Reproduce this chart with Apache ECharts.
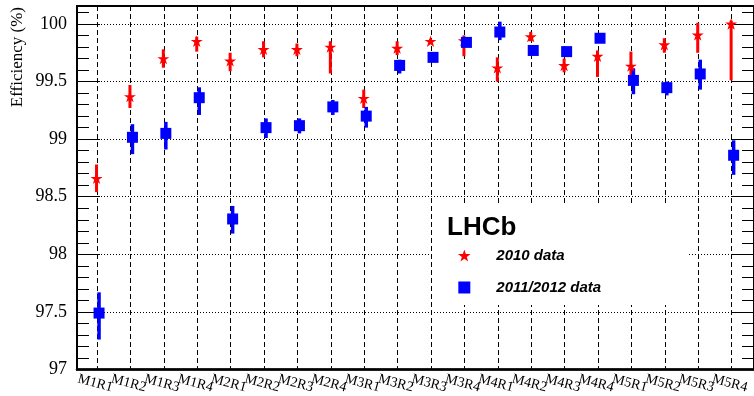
<!DOCTYPE html>
<html>
<head>
<meta charset="utf-8">
<script src="https://cdn.jsdelivr.net/npm/echarts@6/dist/echarts.min.js"></script>
<style>
  html, body { margin: 0; padding: 0; background: #fff; }
  #chart { width: 754px; height: 396px; }
</style>
</head>
<body>
<div id="chart"></div>
<script>
// Muon station regions (station M1..M5, region R1..R4)
const categories = ['M1R1','M1R2','M1R3','M1R4','M2R1','M2R2','M2R3','M2R4',
                    'M3R1','M3R2','M3R3','M3R4','M4R1','M4R2','M4R3','M4R4',
                    'M5R1','M5R2','M5R3','M5R4'];

// 2010 data: efficiency (%) with lower / upper error bounds
const eff2010 = [98.66, 99.37, 99.70, 99.85, 99.68, 99.78, 99.78, 99.80, 99.355, 99.79,
                 99.85, 99.855, 99.62, 99.89, 99.64, 99.72, 99.635, 99.82, 99.905, 100.0];
const low2010 = [98.54, 99.27, 99.62, 99.76, 99.59, 99.71, 99.72, 99.57, 99.27, 99.73,
                 99.83, 99.72, 99.50, 99.85, 99.58, 99.54, 99.557, 99.75, 99.75, 99.51];
const high2010 = [98.78, 99.47, 99.78, 99.89, 99.75, 99.85, 99.83, 99.85, 99.43, 99.85,
                  99.87, 99.90, 99.71, 99.93, 99.70, 99.77, 99.76, 99.876, 100.01, 100.03];

// 2011/2012 data: efficiency (%) with lower / upper error bounds
const eff2012 = [97.49, 99.016, 99.05, 99.36, 98.307, 99.10, 99.117, 99.28, 99.20, 99.64,
                 99.71, 99.84, 99.93, 99.77, 99.76, 99.876, 99.51, 99.447, 99.566, 98.86];
const low2012 = [97.26, 98.87, 98.91, 99.21, 98.18, 99.01, 99.05, 99.21, 99.10, 99.57,
                 99.68, 99.81, 99.86, 99.74, 99.72, 99.85, 99.39, 99.38, 99.43, 98.69];
const high2012 = [97.67, 99.13, 99.15, 99.45, 98.42, 99.18, 99.18, 99.34, 99.28, 99.69,
                  99.74, 99.87, 100.02, 99.80, 99.80, 99.90, 99.615, 99.50, 99.69, 98.99];

const yTicks = [97, 97.5, 98, 98.5, 99, 99.5, 100];

const X_MIN = -0.6, X_MAX = 19.67;
const Y_MIN = 97, Y_MAX = 100.156;
const OFF_2010 = -0.015, OFF_2012 = 0.06;   // small horizontal shift between the two sets

const STAR = 'path://M50,0L61.2,34.5L97.6,34.5L68.2,55.9L79.4,90.5L50,69.1L20.6,90.5L31.8,55.9L2.4,34.5L38.8,34.5Z';
const SQUARE = 'path://M0,0L10,0L10,10L0,10Z';
const RED = '#ff0000', BLUE = '#0000ff';

const catIdx = categories.map((_, i) => i);
// extent ends are padded in as blank labels so every region name stays visible
const labelValues = [X_MIN].concat(catIdx, [X_MAX]);

function yAxisDef(position, interval, tickLen, major) {
  return {
    type: 'value', position: position, min: Y_MIN, max: Y_MAX, interval: interval,
    axisLine: { show: major, onZero: false, lineStyle: { color: '#000', width: 2 } },
    axisTick: { show: true, inside: true, length: tickLen, lineStyle: { color: '#000', width: 1 } },
    axisLabel: {
      show: major && position === 'left', margin: 10,
      fontFamily: 'Liberation Serif', fontSize: 18, color: '#000',
      formatter: v => yTicks.some(t => Math.abs(t - v) < 1e-6) ? String(+v.toFixed(1)) : ''
    },
    splitLine: {
      show: major && position === 'left',
      lineStyle: { color: '#000', width: 1, type: [1, 2] }
    }
  };
}

function errorSeries(name, x, lo, hi, color, width) {
  return {
    type: 'custom', name: name, xAxisIndex: 0, yAxisIndex: 0,
    data: x.map((v, i) => [v, lo[i], hi[i]]),
    encode: { x: 0, y: [1, 2] },
    silent: true,
    renderItem: function (params, api) {
      const p1 = api.coord([api.value(0), api.value(1)]);
      const p2 = api.coord([api.value(0), api.value(2)]);
      return {
        type: 'line',
        shape: { x1: p1[0], y1: p1[1], x2: p2[0], y2: p2[1] },
        style: { stroke: color, lineWidth: width }
      };
    }
  };
}

const x2010 = catIdx.map(i => i + OFF_2010);
const x2012 = catIdx.map(i => i + OFF_2012);

const chart = echarts.init(document.getElementById('chart'), null, { renderer: 'canvas' });

const option = {
  animation: false,
  backgroundColor: '#fff',
  grid: { left: 77, top: 6, width: 684, height: 363.5, show: true, borderColor: '#000', borderWidth: 2 },
  xAxis: {
    type: 'value', min: X_MIN, max: X_MAX,
    axisLine: { show: true, onZero: false, lineStyle: { color: '#000', width: 2.5 } },
    axisTick: { show: false, customValues: catIdx },
    axisLabel: {
      customValues: labelValues, showMinLabel: false, showMaxLabel: false, hideOverlap: false,
      formatter: v => (Number.isInteger(v) && categories[v] !== undefined) ? categories[v] : '',
      rotate: -15, align: 'center', verticalAlign: 'top', margin: 7,
      fontFamily: 'Liberation Serif', fontSize: 14, color: '#000'
    },
    splitLine: { show: true, lineStyle: { color: '#000', width: 1, type: [5, 3] } }
  },
  yAxis: [
    yAxisDef('left', 0.5, 23, true),
    yAxisDef('left', 0.1, 12, false),
    yAxisDef('right', 0.5, 23, true),
    yAxisDef('right', 0.1, 12, false)
  ],
  legend: {
    orient: 'vertical', left: 453, top: 243, itemWidth: 54, itemHeight: 12, itemGap: 17,
    selectedMode: false, z: 10,
    data: [{ name: '2010 data', icon: STAR }, { name: '2011/2012 data', icon: SQUARE }],
    textStyle: { fontFamily: 'Liberation Sans', fontWeight: 'bold', fontStyle: 'italic', fontSize: 15, color: '#000' }
  },
  graphic: [
    { type: 'rect', left: 432, top: 205, shape: { width: 256, height: 100 }, style: { fill: '#fff' }, z: 1 },
    { type: 'text', left: 447, top: 215, z: 10,
      style: { text: 'LHCb', font: 'bold 26px "Liberation Sans"', fill: '#000' } },
    { type: 'text', x: 18, y: 7, rotation: Math.PI / 2, z: 10,
      style: { text: 'Efficiency (%)', font: '17px "Liberation Serif"', fill: '#000',
               align: 'right', verticalAlign: 'middle' } }
  ],
  series: [
    errorSeries('err2010', x2010, low2010, high2010, RED, 3),
    {
      type: 'scatter', name: '2010 data', symbol: STAR, symbolSize: 12, symbolKeepAspect: true,
      itemStyle: { color: RED, opacity: 1 },
      data: x2010.map((v, i) => [v, eff2010[i]])
    },
    errorSeries('err2012', x2012, low2012, high2012, BLUE, 3.5),
    {
      type: 'scatter', name: '2011/2012 data', symbol: SQUARE, symbolSize: 11, symbolKeepAspect: true,
      itemStyle: { color: BLUE, opacity: 1 },
      data: x2012.map((v, i) => [v, eff2012[i]])
    }
  ]
};

chart.setOption(option);
</script>
</body>
</html>
